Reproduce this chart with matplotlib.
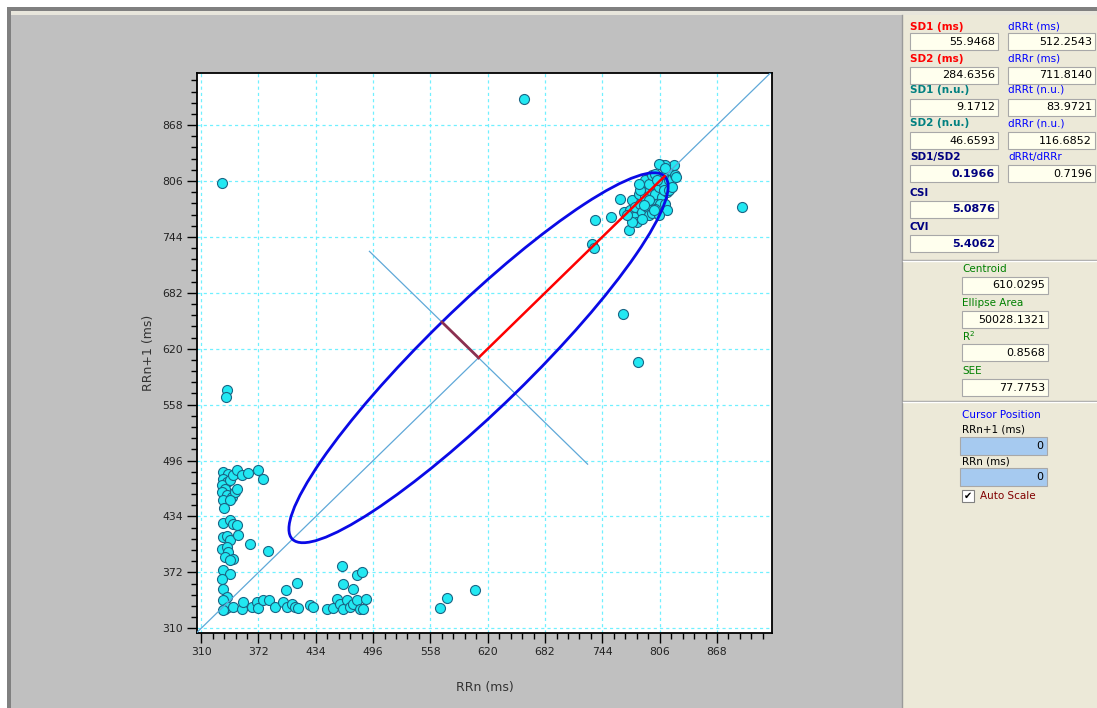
# Poincaré plot (RRn x RRn+1) com painel de índices à direita.
import numpy as np
import matplotlib.pyplot as plt
from matplotlib.patches import Ellipse, Rectangle
from matplotlib.ticker import FixedLocator

# Dados.
rr_n = [333, 659, 895, 766, 783, 606, 576, 568, 338, 337, 735.6, 733, 734.8,
        # bloco superior esquerdo
        333.4, 339.5, 334.1, 337.7, 332.3, 335.9, 341.3, 344.9, 348.5, 353.9, 361.1, 371.9, 376.6,
        332.3, 337.7, 343.1, 346.7, 348.5, 334.1, 341.3, 334.8,
        # bloco do meio
        333.4, 341.3, 344.9, 348.5, 334.1, 337.7, 341.3, 332.3, 337.7, 339.5, 335.9, 344.9,
        334.1, 341.3, 332.3, 362.9, 382.7, 350.3, 341.3,
        # vertical inferior
        334.1, 337.7, 333.4, 335.9, 339.5, 333.4,
        # linha horizontal inferior
        344.9, 353.9, 355.7, 364.7, 370.1, 371.9, 377.3, 383.8, 389.9, 398.9, 402.5, 407.9, 411.5,
        415.1, 427.7, 431.3, 445.7, 452.9, 456.5, 460.1, 463.7, 467.3, 470.9, 474.5, 478.1, 481.7,
        485.3, 488.2, 401.8, 413.3, 461.9, 463.7, 478.1, 483.5, 474.5,
        # aglomerado superior direito
        752.8, 763.6, 767.2, 772.6, 776.2, 774.4, 779.8, 778.0, 783.4, 785.2, 787.0, 781.6, 788.8,
        790.6, 792.4, 794.2, 796.0, 797.8, 799.6, 801.4, 803.2, 805.0, 806.8, 808.6, 810.4, 812.2,
        814.0, 815.8, 817.6, 819.4, 821.2, 823.0, 808.6, 812.2, 806.8, 812.2, 814.0, 801.4, 797.8,
        805.0, 785.2, 790.6, 794.2, 797.8, 801.4, 803.2, 810.4, 815.8, 819.4, 823.7, 805.0, 812.2,
        787.0, 776.2, 770.8, 794.2, 799.6, 783.4, 788.8]
rr_n1 = [804, 897, 777, 659, 605, 352, 344, 333, 574, 566, 762.9, 735.9, 732.2,
         483.4, 481.5, 476.0, 472.3, 468.6, 464.9, 474.1, 479.7, 485.2, 479.7, 482.2, 485.9, 476.0,
         461.2, 457.5, 455.6, 461.2, 464.9, 451.9, 451.9, 443.4,
         426.8, 429.7, 426.0, 424.2, 411.3, 412.0, 407.6, 398.3, 400.2, 394.6, 389.1, 387.2,
         374.3, 370.6, 365.0, 403.9, 395.7, 413.1, 385.4,
         354.0, 344.7, 341.0, 331.8, 333.6, 330.7,
         333.6, 331.8, 339.2, 333.6, 339.2, 332.9, 341.0, 341.0, 333.6, 339.2, 333.6, 337.3, 333.6,
         332.9, 335.5, 333.6, 331.8, 332.9, 342.9, 337.3, 331.8, 341.0, 333.6, 337.3, 341.0, 331.8,
         331.8, 342.9, 352.1, 360.2, 378.7, 358.8, 368.7, 372.4, 353.9,
         766.3, 786.6, 771.8, 752.2, 784.7, 773.7, 777.4, 766.3, 792.1, 781.0, 771.8, 760.7, 799.5,
         788.4, 777.4, 768.1, 795.8, 784.7, 803.2, 792.1, 781.0, 799.5, 810.6, 788.4, 803.2, 814.3,
         794.0, 806.9, 818.0, 808.8, 823.6, 812.5, 823.6, 823.6, 781.0, 781.0, 773.7, 775.5, 770.0,
         768.1, 795.8, 806.9, 803.2, 812.5, 814.3, 806.9, 795.8, 795.8, 799.5, 810.6, 825.4, 819.9,
         764.4, 760.7, 768.1, 784.7, 773.7, 803.2, 779.2]

sd1 = 55.9468
sd2 = 284.6356
centroid = 610.0295
perp_ext = 118  # meia extensão da reta perpendicular

ticks = [310, 372, 434, 496, 558, 620, 682, 744, 806, 868]

left_labels = ["SD1 (ms)", "SD2 (ms)", "SD1 (n.u.)", "SD2 (n.u.)", "SD1/SD2", "CSI", "CVI"]
left_values = ["55.9468", "284.6356", "9.1712", "46.6593", "0.1966", "5.0876", "5.4062"]
right_labels = ["dRRt (ms)", "dRRr (ms)", "dRRt (n.u.)", "dRRr (n.u.)", "dRRt/dRRr"]
right_values = ["512.2543", "711.8140", "83.9721", "116.6852", "0.7196"]
mid_labels = ["Centroid", "Ellipse Area", "R$^{2}$", "SEE"]
mid_values = ["610.0295", "50028.1321", "0.8568", "77.7753"]

# Figura.
W, H = 1097, 708
fig = plt.figure(figsize=(W / 100, H / 100), dpi=100, facecolor="white")

# Fundo em coordenadas de pixel.
bg = fig.add_axes([0, 0, 1, 1], zorder=0)
bg.set_xlim(0, W)
bg.set_ylim(H, 0)
bg.axis("off")
bg.add_patch(Rectangle((7, 7), W - 7, 4, facecolor="#808080", lw=0))
bg.add_patch(Rectangle((7, 7), 3.5, H - 7, facecolor="#808080", lw=0))
bg.add_patch(Rectangle((10.5, 11), W - 10.5, 4, facecolor="#e8e6dc", lw=0))
bg.add_patch(Rectangle((10.5, 15), 891, H - 15, facecolor="#c0c0c0", lw=0))
bg.add_patch(Rectangle((902, 15), W - 902, H - 15, facecolor="#ece9d8", lw=0))
bg.plot([902, 902], [15, H], color="#9a9a9a", lw=1)
for ys in (260, 401):
    bg.plot([903, W], [ys, ys], color="#a0a0a0", lw=1)
    bg.plot([903, W], [ys + 1, ys + 1], color="white", lw=1)

def box(x, y, w, h, val, color="#ffffee", weight="normal", tcolor="black"):
    bg.add_patch(Rectangle((x, y), w, h, facecolor=color, edgecolor="#a8a8a8", lw=0.8))
    bg.text(x + w - 3, y + h / 2 + 0.5, val, ha="right", va="center", fontsize=8,
            color=tcolor, fontweight=weight)

row_lab = [26.5, 58.5, 90, 123, 157, 193, 227]
row_box = [33, 66.5, 98.5, 131.5, 165, 200.5, 235]
left_colors = ["#ff0000", "#ff0000", "#008080", "#008080", "#000080", "#000080", "#000080"]
for i in range(len(left_labels)):
    bg.text(910, row_lab[i], left_labels[i], color=left_colors[i], fontsize=7.5,
            fontweight="bold", va="center")
    bold = i >= 4
    box(910, row_box[i], 88, 17, left_values[i], weight="bold" if bold else "normal",
        tcolor="#000080" if bold else "black")
for i in range(len(right_labels)):
    bg.text(1008, row_lab[i], right_labels[i], color="#0000ff", fontsize=7.5, va="center")
    box(1008, row_box[i], 87, 17, right_values[i])

mid_lab = [269, 303, 336, 371.5]
mid_box = [276.5, 311, 344, 379]
for i in range(len(mid_labels)):
    bg.text(962, mid_lab[i], mid_labels[i], color="#008000", fontsize=7.5, va="center")
    box(962, mid_box[i], 86, 17, mid_values[i])

bg.text(962, 415, "Cursor Position", color="#0000ff", fontsize=7.5, va="center")
bg.text(962, 430, "RRn+1 (ms)", color="black", fontsize=7.5, va="center")
box(959.5, 437, 87, 17.5, "0", color="#a6caf0")
bg.text(962, 461.5, "RRn (ms)", color="black", fontsize=7.5, va="center")
box(959.5, 468, 87, 17.5, "0", color="#a6caf0")
bg.add_patch(Rectangle((962, 490), 11.5, 11.5, facecolor="white", edgecolor="#808080", lw=0.8))
bg.text(967.8, 496, "\u2714", fontsize=7, ha="center", va="center", color="black")
bg.text(980, 496, "Auto Scale", color="#800000", fontsize=7.5, va="center")

# Gráfico principal.
ax = fig.add_axes([197 / W, 1 - 633 / H, 575 / W, 560 / H], zorder=2)
ax.set_facecolor("white")
ax.set_xlim(305.5, 927.5)
ax.set_ylim(304.8, 925.8)

ax.xaxis.set_major_locator(FixedLocator(ticks))
ax.yaxis.set_major_locator(FixedLocator(ticks))
ax.xaxis.set_minor_locator(FixedLocator(np.arange(310, 928, 12.4)))
ax.yaxis.set_minor_locator(FixedLocator(np.arange(310, 926, 12.4)))
ax.tick_params(which="major", length=7, width=1, labelsize=7.8, colors="black",
               labelcolor="#222222", pad=3)
ax.tick_params(which="minor", length=4, width=1)
ax.grid(True, which="major", color="#70f0ff", linestyle=(0, (2.5, 2.5)), lw=0.9)
for s in ax.spines.values():
    s.set_color("black")
    s.set_linewidth(1.3)

ax.set_xlabel("RRn (ms)", fontsize=9, color="#333333", labelpad=17)
ax.set_ylabel("RRn+1 (ms)", fontsize=9, color="#333333", labelpad=5)

# Reta identidade.
ax.axline((ticks[0], ticks[0]), slope=1, color="#5fa8d8", lw=0.9, zorder=3)

ax.scatter(rr_n, rr_n1, s=52, facecolor="#22e8f2", edgecolor="#1a6585", lw=0.8, zorder=2)

# Elipse SD1/SD2.
ell = Ellipse((centroid, centroid), 2 * sd2, 2 * sd1, angle=45, fill=False,
              edgecolor="#0a0ae6", lw=2, zorder=4)
ax.add_patch(ell)

d1 = sd1 / np.sqrt(2)
d2 = sd2 / np.sqrt(2)
ax.plot([centroid - perp_ext, centroid + perp_ext], [centroid + perp_ext, centroid - perp_ext],
        color="#5fa8d8", lw=0.9, zorder=3)
ax.plot([centroid, centroid + d2], [centroid, centroid + d2], color="#ff0000", lw=1.8, zorder=5)
ax.plot([centroid, centroid - d1], [centroid, centroid + d1], color="#8b3050", lw=2, zorder=5)

fig.savefig("out.png", dpi=100, facecolor=fig.get_facecolor())
